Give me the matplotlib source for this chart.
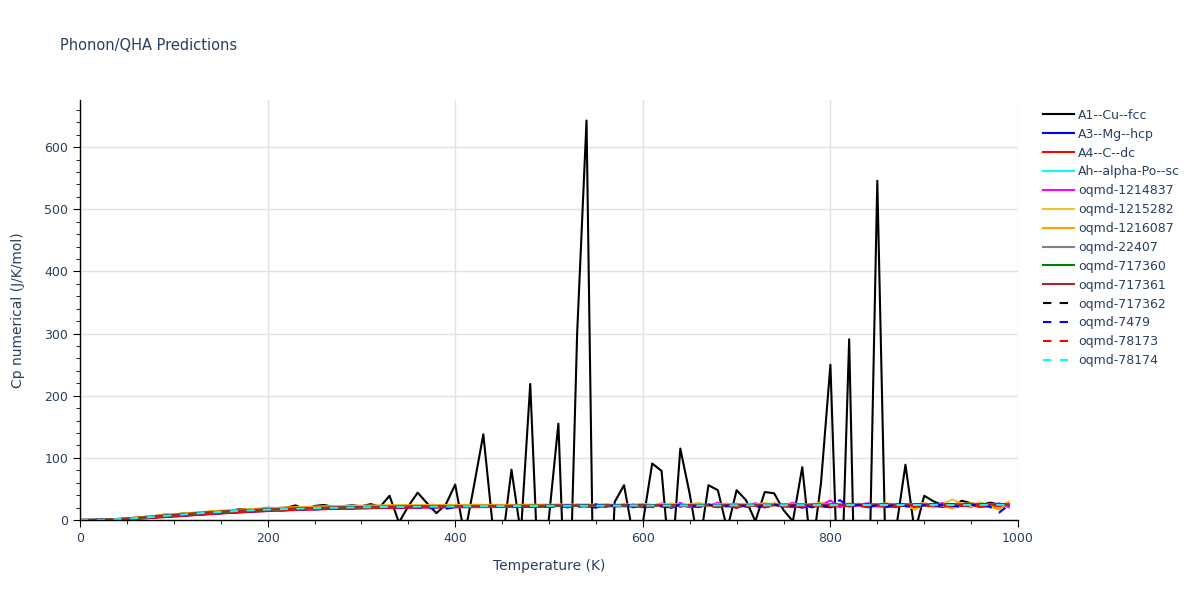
import numpy as np
import matplotlib
matplotlib.use("Agg")
import matplotlib.pyplot as plt
from matplotlib.ticker import MultipleLocator

# temperature grid (K)
temps = list(range(0, 1000, 10))

# Cp numerical (J/K/mol)
cu_fcc = [0, 0.1, 0.4, 0.9, 1.6, 2.6, 3.8, 5.0, 6.4, 8.6,
          8.2, 10.6, 10.3, 12.6, 13.2, 14.6, 14.2, 17.6, 16.6, 17.2,
          19.6, 19.2, 19.8, 23.5, 16.5, 22.6, 24.2, 21.2, 22.3, 23.6,
          22.1, 25.6, 21.3, 39, -4, 22, 44, 27, 11, 25,
          57, -25, 55, 138, -10, -40, 81, -22, 219, -140,
          5, 155, -250, 300, 643, -400, -300, 29, 56, -28,
          -5, 91, 79, -90, 115, 42, -45, 56, 48, -15,
          48, 32, -2, 45, 43, 16, -2, 85, -57, 60,
          250, -200, 291, -400, -200, 546, -140, -15, 89, -20,
          39, 30, 24, 22, 31, 27, 23, 28, 25, 26]

mg_hcp = [0, 0.0, 0.2, 0.5, 0.9, 1.5, 2.2, 3.0, 3.9, 4.9,
          5.9, 6.9, 7.9, 8.9, 9.9, 10.8, 11.7, 12.5, 13.3, 14.0,
          14.7, 15.3, 15.9, 16.4, 16.9, 17.3, 17.7, 18.1, 18.4, 18.7,
          19.0, 19.3, 19.5, 19.7, 19.9, 20.1, 20.3, 20.4, 20.6, 20.7,
          20.8, 20.9, 21.0, 21.1, 21.2, 21.3, 21.4, 21.4, 21.5, 21.6,
          21.0, 23.5, 20.2, 24.6, 22.1, 19.8, 24.3, 21.5, 25.2, 20.4,
          23.9, 21.2, 25.6, 19.5, 24.0, 22.3, 20.8, 25.1, 21.7, 23.6,
          19.9, 24.8, 22.5, 20.6, 25.3, 21.4, 23.2, 19.7, 24.5, 22.0,
          20.3, 25.0, 21.8, 23.9, 20.5, 24.7, 22.2, 21.1, 25.4, 20.9,
          24.2, 22.6, 21.0, 25.5, 23.3, 21.6, 24.9, 22.4, 20.7, 24.1]

c_dc = [0, 0.0, 0.1, 0.4, 0.8, 1.3, 2.0, 2.8, 3.7, 4.6,
        5.6, 6.6, 7.6, 8.6, 9.6, 10.5, 11.4, 12.2, 13.0, 13.7,
        14.4, 15.0, 15.6, 16.1, 16.6, 17.0, 17.4, 17.8, 18.1, 18.4,
        18.7, 19.0, 19.2, 19.4, 19.6, 19.8, 20.0, 20.1, 20.3, 20.4,
        20.5, 20.6, 20.7, 20.8, 20.9, 21.0, 21.1, 21.1, 21.2, 21.3,
        21.8, 22.5, 21.2, 23.0, 21.6, 22.9, 20.8, 23.4, 21.9, 22.2,
        20.5, 23.6, 22.0, 21.1, 23.8, 20.7, 22.6, 23.9, 21.3, 22.4,
        19.8, 24.1, 22.7, 21.0, 23.5, 22.1, 20.6, 24.3, 21.7, 22.9,
        23.2, 21.4, 22.8, 24.0, 21.9, 22.5, 20.9, 23.7, 22.3, 21.6,
        23.4, 22.0, 24.2, 21.5, 22.8, 23.6, 21.2, 22.9, 24.4, 22.1]

po_sc = [0, 0.1, 0.3, 0.7, 1.3, 2.1, 3.1, 4.2, 5.4, 6.6,
         7.8, 9.0, 10.1, 11.2, 12.2, 13.1, 14.0, 14.8, 15.5, 16.2,
         16.8, 17.3, 17.8, 18.3, 18.7, 19.1, 19.4, 19.7, 20.0, 20.3,
         20.5, 20.7, 20.9, 21.1, 21.3, 21.4, 21.6, 21.7, 21.8, 21.9,
         22.0, 22.1, 22.2, 22.3, 22.4, 22.4, 22.5, 22.6, 22.6, 22.7,
         23.0, 23.1, 23.2, 23.1, 23.3, 23.4, 23.3, 23.5, 23.4, 23.6,
         23.5, 23.7, 23.6, 23.8, 23.7, 23.9, 23.8, 24.0, 23.9, 24.1,
         24.0, 24.2, 24.1, 24.3, 24.2, 24.4, 24.3, 24.5, 24.4, 24.6,
         24.5, 24.7, 24.6, 24.8, 24.7, 24.9, 24.8, 25.0, 24.9, 25.1,
         25.0, 25.2, 25.1, 25.3, 25.2, 25.4, 25.3, 25.5, 25.4, 25.6]

oqmd_1214837 = [0, 0.1, 0.3, 0.7, 1.3, 2.1, 3.1, 4.2, 5.4, 6.6,
                7.8, 9.0, 10.1, 11.2, 12.2, 13.1, 14.0, 14.8, 15.5, 16.2,
                16.8, 17.3, 17.8, 18.3, 18.7, 19.1, 19.4, 19.7, 20.0, 20.3,
                20.5, 20.7, 20.9, 21.1, 21.3, 21.4, 21.6, 21.7, 21.8, 21.9,
                22.0, 22.1, 22.2, 22.3, 22.4, 22.4, 22.5, 22.6, 22.6, 22.7,
                22.9, 23.0, 23.1, 23.0, 23.2, 23.3, 23.2, 23.4, 23.3, 23.5,
                24.5, 22.0, 26.8, 21.5, 27.5, 20.8, 25.9, 22.6, 27.8, 21.9,
                26.0, 22.4, 27.2, 21.0, 25.4, 23.1, 27.9, 22.2, 25.5, 23.8,
                31.5, 21.2, 25.7, 22.8, 27.3, 21.6, 26.4, 23.5, 25.0, 22.3,
                26.1, 21.8, 27.6, 22.9, 25.3, 24.2, 27.5, 21.7, 26.9, 20.5]

oqmd_1215282 = [0, 0.1, 0.4, 0.8, 1.6, 2.5, 3.7, 5.0, 6.3, 7.6,
                8.9, 10.1, 11.3, 12.4, 13.5, 14.5, 15.4, 16.3, 17.1, 17.8,
                18.5, 19.1, 19.7, 20.2, 20.7, 21.1, 21.5, 21.8, 22.1, 22.4,
                22.6, 22.8, 23.0, 23.2, 23.3, 23.4, 23.5, 23.6, 23.7, 23.8,
                23.8, 23.9, 23.9, 24.0, 24.0, 24.1, 24.1, 24.1, 24.2, 24.2,
                24.2, 24.8, 23.9, 25.1, 24.4, 23.6, 25.5, 24.0, 24.9, 23.3,
                26.0, 24.5, 22.8, 26.9, 23.5, 25.2, 27.3, 22.9, 24.6, 26.5,
                23.1, 25.8, 24.2, 27.6, 22.4, 25.0, 26.3, 23.7, 24.8, 28.0,
                22.6, 25.4, 24.1, 26.8, 23.3, 24.9, 27.1, 22.7, 25.6, 24.3,
                27.4, 23.0, 25.9, 33.0, 26.5, 22.0, 28.5, 24.0, 19.5, 29.5]

oqmd_1216087 = [0, 0.1, 0.4, 0.9, 1.7, 2.7, 3.9, 5.2, 6.5, 7.8,
                9.1, 10.4, 11.6, 12.7, 13.8, 14.8, 15.7, 16.6, 17.4, 18.1,
                18.8, 19.4, 20.0, 20.5, 21.0, 21.4, 21.8, 22.1, 22.4, 22.7,
                22.9, 23.1, 23.3, 23.5, 23.6, 23.7, 23.8, 23.9, 24.0, 24.1,
                24.1, 24.2, 24.2, 24.3, 24.3, 24.4, 24.4, 24.4, 24.5, 24.5,
                24.6, 24.5, 24.8, 24.4, 24.9, 24.6, 25.0, 24.3, 25.2, 24.7,
                25.8, 23.6, 26.4, 23.9, 25.5, 24.1, 26.8, 23.4, 25.9, 24.8,
                26.2, 23.7, 25.4, 24.5, 27.0, 23.2, 25.6, 24.9, 26.1, 23.8,
                25.3, 24.4, 26.6, 23.5, 25.1, 24.7, 26.3, 24.0, 25.7, 16.5,
                24.8, 26.0, 23.1, 18.5, 25.6, 27.2, 24.1, 22.0, 16.8, 27.5]

oqmd_22407 = [0, 0.1, 0.3, 0.7, 1.3, 2.1, 3.1, 4.2, 5.4, 6.6,
              7.8, 9.0, 10.1, 11.2, 12.2, 13.1, 14.0, 14.8, 15.5, 16.2,
              16.8, 17.3, 17.8, 18.3, 18.7, 19.1, 19.4, 19.7, 20.0, 20.3,
              20.5, 20.7, 20.9, 21.1, 21.3, 21.4, 21.6, 21.7, 21.8, 21.9,
              22.0, 22.1, 22.2, 22.3, 22.4, 22.4, 22.5, 22.6, 22.6, 22.7,
              23.2, 23.3, 23.3, 23.4, 23.5, 23.5, 23.6, 23.6, 23.7, 23.7,
              23.8, 23.8, 23.9, 23.9, 24.0, 24.0, 24.1, 24.1, 24.1, 24.2,
              24.2, 24.3, 24.3, 24.3, 24.4, 24.4, 24.4, 24.5, 24.5, 24.5,
              24.6, 24.6, 24.6, 24.7, 24.7, 24.7, 24.8, 24.8, 24.8, 24.9,
              24.9, 24.9, 25.0, 25.0, 25.0, 25.1, 25.1, 25.1, 25.2, 25.2]

oqmd_717360 = [0, 0.1, 0.3, 0.6, 1.2, 2.0, 2.9, 4.0, 5.2, 6.4,
               7.6, 8.8, 9.9, 11.0, 12.0, 12.9, 13.8, 14.6, 15.3, 16.0,
               16.6, 17.1, 17.6, 18.1, 18.5, 18.9, 19.2, 19.5, 19.8, 20.1,
               20.3, 20.5, 20.7, 20.9, 21.1, 21.2, 21.4, 21.5, 21.6, 21.7,
               21.8, 21.9, 22.0, 22.1, 22.2, 22.2, 22.3, 22.4, 22.4, 22.5,
               22.8, 22.9, 22.9, 23.0, 23.1, 23.1, 23.2, 23.2, 23.3, 23.3,
               23.4, 23.4, 23.5, 23.5, 23.6, 23.6, 23.7, 23.7, 23.7, 23.8,
               23.8, 23.9, 23.9, 23.9, 24.0, 24.0, 24.0, 24.1, 24.1, 24.1,
               24.2, 24.2, 24.2, 24.3, 24.3, 24.3, 24.4, 24.4, 24.4, 24.5,
               24.5, 24.5, 24.6, 24.6, 24.6, 24.7, 24.7, 24.7, 24.8, 24.8]

oqmd_717361 = [0, 0.1, 0.3, 0.8, 1.4, 2.3, 3.3, 4.5, 5.7, 7.0,
               8.2, 9.4, 10.5, 11.6, 12.6, 13.5, 14.4, 15.2, 15.9, 16.6,
               17.2, 17.7, 18.2, 18.7, 19.1, 19.5, 19.8, 20.1, 20.4, 20.7,
               20.9, 21.1, 21.3, 21.5, 21.7, 21.8, 22.0, 22.1, 22.2, 22.3,
               22.4, 22.5, 22.6, 22.7, 22.8, 22.8, 22.9, 23.0, 23.0, 23.1,
               23.4, 23.5, 23.5, 23.6, 23.6, 23.7, 23.7, 23.8, 23.8, 23.9,
               23.9, 24.0, 24.0, 24.0, 24.1, 24.1, 24.1, 24.2, 24.2, 24.2,
               24.3, 24.3, 24.3, 24.4, 24.4, 24.4, 24.5, 24.5, 24.5, 24.5,
               24.6, 24.6, 24.6, 24.6, 24.7, 24.7, 24.7, 24.7, 24.8, 24.8,
               24.8, 24.8, 24.9, 24.9, 24.9, 24.9, 25.0, 25.0, 25.0, 25.0]

oqmd_717362 = [0, 0.1, 0.3, 0.7, 1.3, 2.1, 3.1, 4.2, 5.4, 6.6,
               7.8, 9.0, 10.1, 11.2, 12.2, 13.1, 14.0, 14.8, 15.5, 16.2,
               16.8, 17.3, 17.8, 18.3, 18.7, 19.1, 19.4, 19.7, 20.0, 20.3,
               20.5, 20.7, 20.9, 21.1, 21.3, 21.4, 21.6, 21.7, 21.8, 21.9,
               22.0, 22.1, 22.2, 22.3, 22.4, 22.4, 22.5, 22.6, 22.6, 22.7,
               23.0, 23.1, 23.2, 23.2, 23.3, 23.4, 23.4, 23.5, 23.6, 23.6,
               23.7, 23.7, 23.8, 23.8, 23.9, 23.9, 24.0, 24.0, 24.1, 24.1,
               24.2, 24.2, 24.3, 24.3, 24.3, 24.4, 24.4, 24.4, 24.5, 24.5,
               24.5, 24.6, 24.6, 24.6, 24.7, 24.7, 24.7, 24.8, 24.8, 24.8,
               24.9, 24.9, 24.9, 25.0, 25.0, 25.0, 25.1, 25.1, 25.1, 25.2]

oqmd_7479 = [0, 0.0, 0.2, 0.5, 1.0, 1.6, 2.3, 3.1, 4.0, 5.0,
             6.0, 7.0, 8.0, 9.0, 10.0, 10.9, 11.8, 12.6, 13.4, 14.1,
             14.8, 15.4, 16.0, 16.5, 17.0, 17.4, 17.8, 18.2, 18.5, 18.8,
             19.1, 19.4, 19.6, 19.8, 20.0, 20.2, 20.4, 17.5, 20.7, 18.0,
             20.9, 21.0, 21.1, 21.2, 21.3, 21.4, 21.5, 21.5, 21.6, 21.7,
             22.5, 19.8, 24.2, 21.0, 23.1, 25.4, 20.6, 23.8, 21.9, 24.7,
             20.3, 23.5, 22.2, 19.6, 24.9, 21.3, 23.0, 25.2, 20.1, 22.8,
             24.4, 21.5, 19.9, 23.7, 25.1, 21.1, 22.9, 24.6, 20.4, 23.3,
             21.7, 32.0, 22.1, 24.3, 20.8, 23.6, 21.2, 24.8, 22.4, 20.6,
             23.9, 21.8, 25.0, 22.7, 20.9, 24.5, 23.1, 21.4, 12.0, 23.8]

oqmd_78173 = [0, 0.0, 0.2, 0.5, 1.0, 1.6, 2.4, 3.2, 4.1, 5.1,
              6.1, 7.1, 8.1, 9.1, 10.1, 11.0, 11.9, 12.7, 13.5, 14.2,
              14.9, 15.5, 16.1, 16.6, 17.1, 17.5, 17.9, 18.3, 18.6, 18.9,
              19.2, 19.5, 19.7, 19.9, 20.1, 20.3, 20.5, 20.6, 20.8, 20.9,
              21.0, 21.1, 21.2, 21.3, 21.4, 21.5, 21.6, 21.6, 21.7, 21.8,
              22.0, 21.4, 23.1, 21.9, 22.6, 20.9, 23.3, 22.2, 21.5, 23.7,
              22.4, 20.8, 23.0, 22.1, 21.3, 23.9, 21.8, 22.7, 20.6, 23.4,
              22.9, 21.6, 23.2, 20.4, 22.5, 24.0, 21.7, 22.3, 23.5, 21.0,
              22.8, 21.9, 23.6, 22.2, 21.4, 23.1, 22.6, 21.5, 23.8, 22.0,
              21.3, 23.3, 22.4, 21.8, 23.7, 22.5, 21.1, 23.0, 22.7, 22.9]

oqmd_78174 = [0, 0.1, 0.3, 0.7, 1.3, 2.1, 3.1, 4.2, 5.4, 6.6,
              7.8, 9.0, 10.1, 11.2, 12.2, 13.1, 14.0, 14.8, 15.5, 16.2,
              16.8, 17.3, 17.8, 18.3, 18.7, 19.1, 19.4, 19.7, 20.0, 20.3,
              20.5, 20.7, 20.9, 21.1, 21.3, 21.4, 21.6, 21.7, 21.8, 21.9,
              22.0, 22.1, 22.2, 22.3, 22.4, 22.4, 22.5, 22.6, 22.6, 22.7,
              22.8, 22.9, 22.9, 23.0, 23.0, 23.1, 23.1, 23.2, 23.2, 23.3,
              23.3, 23.4, 23.4, 23.4, 23.5, 23.5, 23.5, 23.6, 23.6, 23.6,
              23.7, 23.7, 23.7, 23.8, 23.8, 23.8, 23.9, 23.9, 23.9, 24.0,
              24.0, 24.0, 24.1, 24.1, 24.1, 24.1, 24.2, 24.2, 24.2, 24.2,
              24.3, 24.3, 24.3, 24.3, 24.4, 24.4, 24.4, 24.4, 24.5, 24.5]

labels = ["A1--Cu--fcc", "A3--Mg--hcp", "A4--C--dc", "Ah--alpha-Po--sc",
          "oqmd-1214837", "oqmd-1215282", "oqmd-1216087", "oqmd-22407",
          "oqmd-717360", "oqmd-717361", "oqmd-717362", "oqmd-7479",
          "oqmd-78173", "oqmd-78174"]
series = [cu_fcc, mg_hcp, c_dc, po_sc, oqmd_1214837, oqmd_1215282, oqmd_1216087,
          oqmd_22407, oqmd_717360, oqmd_717361, oqmd_717362, oqmd_7479,
          oqmd_78173, oqmd_78174]
colors = ["black", "blue", "red", "cyan", "magenta", "#f2c12e", "orange",
          "gray", "green", "brown", "black", "blue", "red", "cyan"]
styles = ["-"] * 10 + ["--"] * 4

text_col = "#2a3f5f"

fig = plt.figure(figsize=(12, 6), dpi=100)
ax = fig.add_axes([80 / 1200, 80 / 600, 938 / 1200, 420 / 600])

for y, lab, c, ls in zip(series, labels, colors, styles):
    ax.plot(temps, y, color=c, linestyle=ls, linewidth=1.5, label=lab,
            dashes=(4, 4) if ls == "--" else (None, None))

ax.set_xlim(0, 1000)
ax.set_ylim(0, 676)
ax.xaxis.set_major_locator(MultipleLocator(200))
ax.xaxis.set_minor_locator(MultipleLocator(50))
ax.yaxis.set_major_locator(MultipleLocator(100))
ax.yaxis.set_minor_locator(MultipleLocator(20))
ax.grid(True, which="major", color="#e2e2e2", linewidth=1)
ax.set_axisbelow(True)

for s in ["top", "right"]:
    ax.spines[s].set_visible(False)
for s in ["left", "bottom"]:
    ax.spines[s].set_color("black")
    ax.spines[s].set_linewidth(1)

ax.tick_params(which="major", direction="out", length=5, color="black",
               labelsize=9, labelcolor=text_col)
ax.tick_params(which="minor", direction="out", length=3, color="black")

ax.set_xlabel("Temperature (K)", fontsize=10, color=text_col, labelpad=10)
ax.set_ylabel("Cp numerical (J/K/mol)", fontsize=10, color=text_col, labelpad=14)
fig.text(60 / 1200, 1 - 45 / 600, "Phonon/QHA Predictions", fontsize=10.5,
         color=text_col, va="center", ha="left")

leg = ax.legend(loc="upper left", bbox_to_anchor=(1.017, 1.0), frameon=False,
                fontsize=9, labelcolor=text_col, handlelength=2.5,
                handletextpad=0.35, labelspacing=0.47, borderaxespad=0.3)

fig.savefig("out.png", dpi=100)
